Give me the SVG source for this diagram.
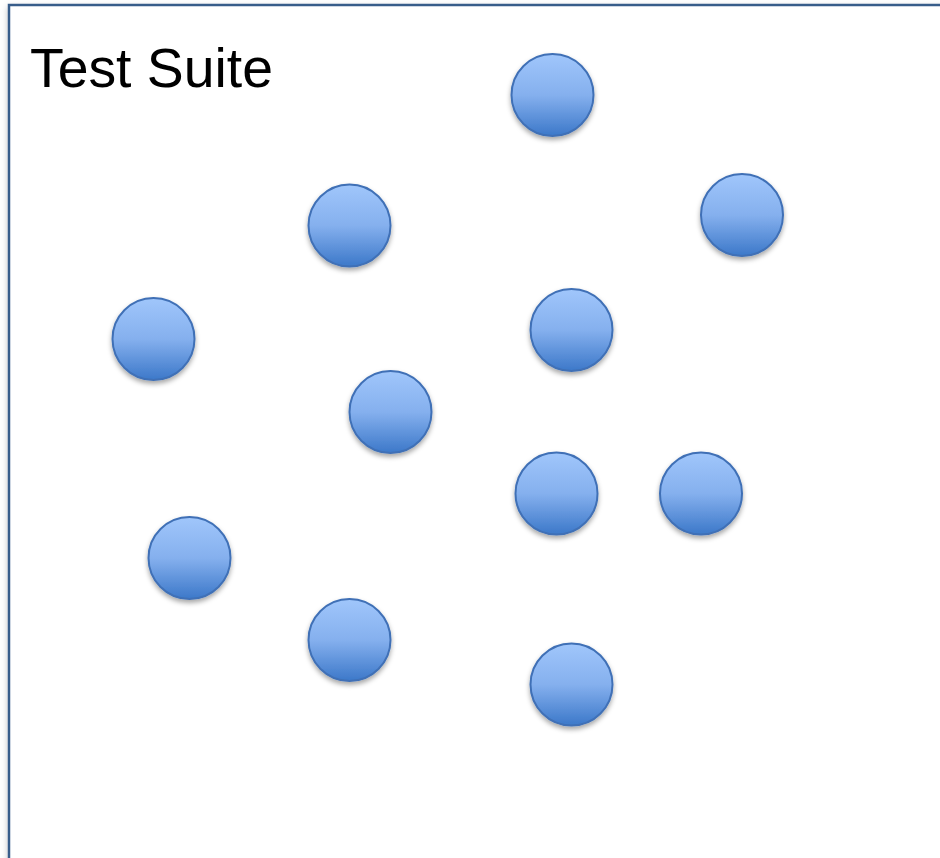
<svg xmlns="http://www.w3.org/2000/svg" width="940" height="858" viewBox="0 0 940 858">
  <defs>
    <linearGradient id="ball" x1="0" y1="0" x2="0" y2="1">
      <stop offset="0" stop-color="#a0c6fb"/>
      <stop offset="0.5" stop-color="#85b0ee"/>
      <stop offset="1" stop-color="#3c78c9"/>
    </linearGradient>
    <filter id="sh" x="-30%" y="-30%" width="160%" height="170%">
      <feDropShadow dx="0" dy="3" stdDeviation="2.5" flood-color="#000" flood-opacity="0.35"/>
    </filter>
    <filter id="fsh" x="-5%" y="-5%" width="110%" height="110%">
      <feDropShadow dx="0" dy="3" stdDeviation="3" flood-color="#000" flood-opacity="0.25"/>
    </filter>
  </defs>
  <style>
    .b { fill: url(#ball); stroke: #3f70b6; stroke-width: 2; filter: url(#sh); }
    .t { font-family: "Liberation Sans", sans-serif; font-size: 56px; fill: #000; }
  </style>
  <rect width="940" height="858" fill="#fff"/>
  <g id="frame">
    <rect x="9" y="5" width="960" height="900" fill="#fff" stroke="#385d8a" stroke-width="2.5" filter="url(#fsh)"/>
    <text class="t" x="30" y="87" textLength="243" lengthAdjust="spacingAndGlyphs">Test Suite</text>
  </g>
  <g id="n1"><circle class="b" cx="552.5" cy="95" r="41"/></g>
  <g id="n2"><circle class="b" cx="349.5" cy="225.5" r="41"/></g>
  <g id="n3"><circle class="b" cx="742" cy="215" r="41"/></g>
  <g id="n4"><circle class="b" cx="153.5" cy="339" r="41"/></g>
  <g id="n5"><circle class="b" cx="571.5" cy="330" r="41"/></g>
  <g id="n6"><circle class="b" cx="390.5" cy="412" r="41"/></g>
  <g id="n7"><circle class="b" cx="556.5" cy="493.5" r="41"/></g>
  <g id="n8"><circle class="b" cx="701" cy="493.5" r="41"/></g>
  <g id="n9"><circle class="b" cx="189.5" cy="558" r="41"/></g>
  <g id="n10"><circle class="b" cx="349.5" cy="640" r="41"/></g>
  <g id="n11"><circle class="b" cx="571.5" cy="684.5" r="41"/></g>
  <g id="connectors"/>
</svg>
